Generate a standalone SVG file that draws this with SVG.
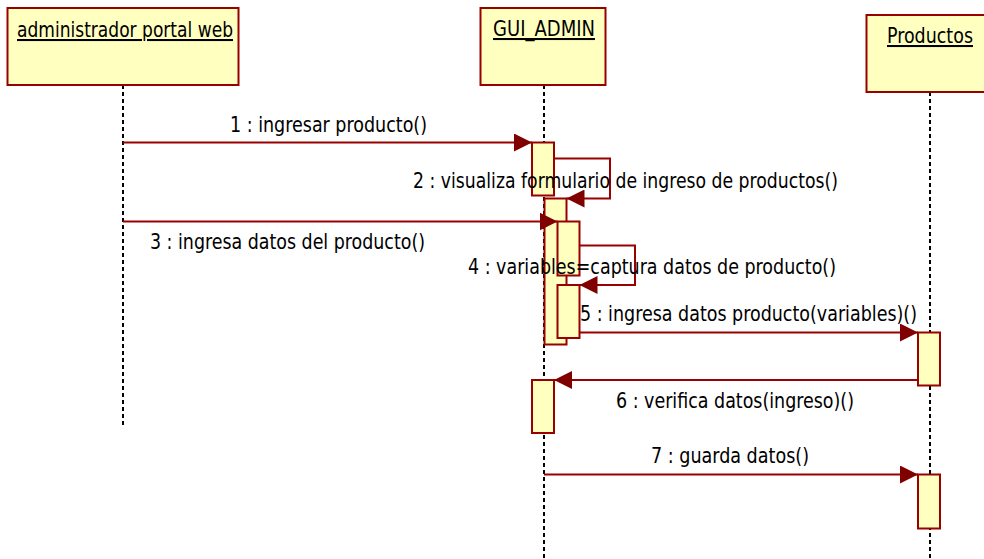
<svg xmlns="http://www.w3.org/2000/svg" width="984" height="559" viewBox="0 0 984 559">
<defs>
<marker id="ah" markerWidth="18" markerHeight="18" refX="18" refY="9" orient="auto" markerUnits="userSpaceOnUse">
<path d="M0,0 L18,9 L0,18 Z" fill="#800000"/>
</marker>
<style>
.box{fill:#FFFFC0;stroke:#990000;stroke-width:2}
.act{fill:#FFFFC0;stroke:#990000;stroke-width:2}
.life{stroke:#000;stroke-width:2;stroke-dasharray:4 3;fill:none}
.msg{stroke:#990000;stroke-width:2;fill:none;marker-end:url(#ah)}
.t{font-family:"DejaVu Sans Condensed","DejaVu Sans",sans-serif;font-stretch:condensed;font-size:20.5px;fill:#000}
.u{text-decoration:underline}
</style>
</defs>
<rect width="984" height="559" fill="#fff"/>
<g id="admin">
<line class="life" x1="123" y1="85" x2="123" y2="428"/>
<rect class="box" x="7.5" y="8" width="231" height="77"/>
<text class="t u" x="17" y="37" textLength="216" lengthAdjust="spacingAndGlyphs">administrador portal web</text>
</g>
<g id="gui_admin">
<line class="life" x1="544" y1="85" x2="544" y2="559"/>
<rect class="box" x="480.5" y="8" width="125" height="77"/>
<text class="t u" x="493" y="36" textLength="102" lengthAdjust="spacingAndGlyphs">GUI_ADMIN</text>
<rect class="act" x="532" y="142.5" width="22" height="53"/>
<rect class="act" x="544.5" y="198.5" width="22" height="146"/>
<rect class="act" x="557.5" y="221.5" width="22" height="54"/>
<rect class="act" x="557.5" y="285" width="22" height="53"/>
<rect class="act" x="532" y="380" width="22" height="53"/>
</g>
<g id="productos">
<line class="life" x1="930" y1="92" x2="930" y2="559"/>
<rect class="box" x="866.5" y="15" width="130" height="77"/>
<text class="t u" x="887" y="43" textLength="86" lengthAdjust="spacingAndGlyphs">Productos</text>
<rect class="act" x="918" y="332.5" width="22" height="53"/>
<rect class="act" x="918" y="474.5" width="22" height="54"/>
</g>
<g id="connectors">
<path class="msg" d="M123,142.5 H532"/>
<path class="msg" d="M555,158.5 H610 V198.5 H566.5"/>
<path class="msg" d="M123,221.5 H557.5"/>
<path class="msg" d="M579.5,245.5 H635 V285 H579.5"/>
<path class="msg" d="M579.5,332.5 H918"/>
<path class="msg" d="M918,380 H554"/>
<path class="msg" d="M544,474.5 H918"/>
</g>
<g id="labels">
<text class="t" x="230" y="132" textLength="197" lengthAdjust="spacingAndGlyphs">1 : ingresar producto()</text>
<text class="t" x="413" y="187.5" textLength="425" lengthAdjust="spacingAndGlyphs">2 : visualiza formulario de ingreso de productos()</text>
<text class="t" x="150" y="249" textLength="275" lengthAdjust="spacingAndGlyphs">3 : ingresa datos del producto()</text>
<text class="t" x="468" y="274" textLength="368" lengthAdjust="spacingAndGlyphs">4 : variables=captura datos de producto()</text>
<text class="t" x="580" y="321" textLength="337" lengthAdjust="spacingAndGlyphs">5 : ingresa datos producto(variables)()</text>
<text class="t" x="616" y="407.5" textLength="238" lengthAdjust="spacingAndGlyphs">6 : verifica datos(ingreso)()</text>
<text class="t" x="651" y="463" textLength="158" lengthAdjust="spacingAndGlyphs">7 : guarda datos()</text>
</g>
</svg>
